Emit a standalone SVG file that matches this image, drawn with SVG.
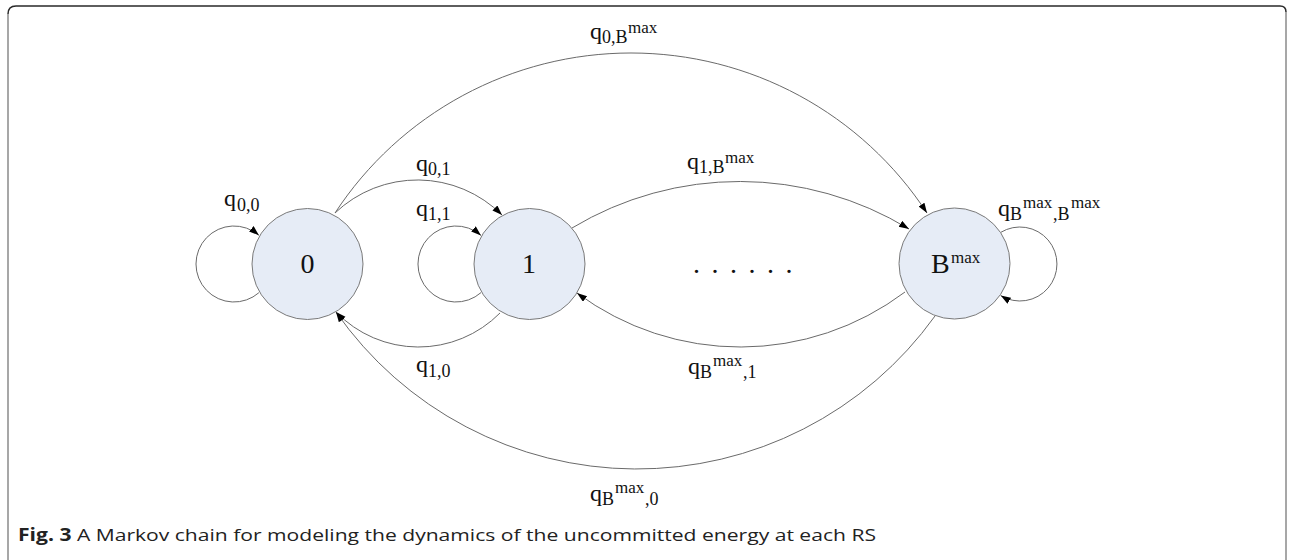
<svg xmlns="http://www.w3.org/2000/svg" width="1294" height="560" viewBox="0 0 1294 560">
<style>
.frame{fill:none;stroke-width:1.5}
.node{fill:#e6ecf6;stroke:#7a7a7a;stroke-width:1}
.edge{fill:none;stroke:#6a6a6a;stroke-width:1;marker-end:url(#arr)}
.lbl{font-family:"Liberation Serif","Times New Roman",serif;fill:#111}
.q{font-size:24px}
.s{font-size:18px}
.p{font-size:17px}
.nt{font-family:"Liberation Serif","Times New Roman",serif;font-size:28px;fill:#111}
.cap{font-family:"Open Sans","Liberation Sans",sans-serif;font-size:17px;fill:#222}
</style>
<defs>
<marker id="arr" markerUnits="userSpaceOnUse" markerWidth="11" markerHeight="8" refX="10" refY="3.5" orient="auto">
<path d="M0,0 L10,3.5 L0,7 z" fill="#000"/>
</marker>
</defs>
<rect width="1294" height="560" fill="#fff"/>
<g id="frame">
<path class="frame" stroke="#2a2a2a" d="M8 14 Q8 6 16 6 L1280 6 Q1286 6 1286 12"/>
<path class="frame" stroke="#8a8a8a" d="M8 14 L8 560 M1286 12 L1286 560"/>
</g>
<g id="connectors">
<path class="edge" d="M258.9 292.7 A38 38 0 1 1 258.9 235.3"/>
<path class="edge" d="M481 292.6 A38 38 0 1 1 481 235.4"/>
<path class="edge" d="M1000.7 232.4 A37 37 0 1 1 1000.7 295.6"/>
<path class="edge" d="M335 213 A119.5 119.5 0 0 1 502 215"/>
<path class="edge" d="M335 213 A353.8 353.8 0 0 1 927 213"/>
<path class="edge" d="M572 228 A325.5 325.5 0 0 1 909 229"/>
<path class="edge" d="M905 292 A274 274 0 0 1 577 293"/>
<path class="edge" d="M500 313 A114.7 114.7 0 0 1 336 312"/>
<path class="edge" d="M935 316 A366.9 366.9 0 0 1 336 312"/>
</g>
<g id="node0">
<circle class="node" cx="307.5" cy="264" r="55.5"/>
<text class="nt" x="307.5" y="273" text-anchor="middle">0</text>
</g>
<g id="node1">
<circle class="node" cx="529.5" cy="264" r="55.5"/>
<text class="nt" x="529" y="273" text-anchor="middle">1</text>
</g>
<g id="nodeBmax">
<circle class="node" cx="954.5" cy="263.5" r="55.5"/>
<text class="nt" x="931" y="273" font-size="30">B</text>
<text class="lbl p" x="951" y="263">max</text>
</g>
<g id="dots">
<text class="nt" x="693" y="273" letter-spacing="11.5">......</text>
</g>
<g id="labels">
<text class="lbl q" x="224" y="206">q</text><text class="lbl s" x="237" y="211">0,0</text>
<text class="lbl q" x="416" y="171">q</text><text class="lbl s" x="428" y="175">0,1</text>
<text class="lbl q" x="416" y="216">q</text><text class="lbl s" x="428" y="220">1,1</text>
<text class="lbl q" x="416" y="372">q</text><text class="lbl s" x="428" y="377">1,0</text>
<text class="lbl q" x="590" y="39">q</text><text class="lbl s" x="602" y="43">0,B</text><text class="lbl p" x="628" y="33">max</text>
<text class="lbl q" x="687" y="169">q</text><text class="lbl s" x="699" y="173">1,B</text><text class="lbl p" x="725" y="163">max</text>
<text class="lbl q" x="998" y="216">q</text><text class="lbl s" x="1010" y="220">B</text><text class="lbl p" x="1023" y="208">max</text><text class="lbl s" x="1053" y="220">,B</text><text class="lbl p" x="1071" y="208">max</text>
<text class="lbl q" x="688" y="374">q</text><text class="lbl s" x="700" y="378">B</text><text class="lbl p" x="713" y="366">max</text><text class="lbl s" x="743" y="378">,1</text>
<text class="lbl q" x="590" y="501">q</text><text class="lbl s" x="602" y="505">B</text><text class="lbl p" x="615" y="493">max</text><text class="lbl s" x="645" y="505">,0</text>
</g>
<g id="caption">
<text class="cap" x="18" y="541" textLength="858" lengthAdjust="spacingAndGlyphs"><tspan font-weight="bold">Fig. 3</tspan> A Markov chain for modeling the dynamics of the uncommitted energy at each RS</text>
</g>
</svg>
